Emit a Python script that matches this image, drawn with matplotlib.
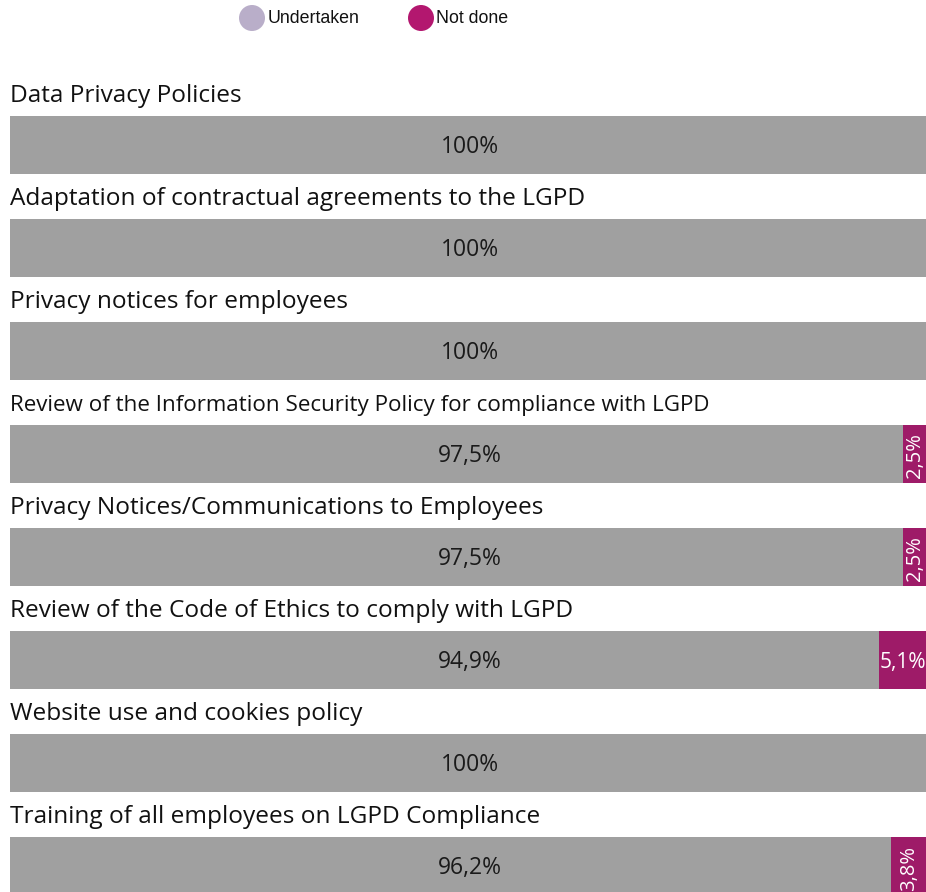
import matplotlib
matplotlib.use("Agg")
import matplotlib.pyplot as plt
from matplotlib.patches import Circle

# Survey items and share of respondents (%)
items = [
    "Data Privacy Policies",
    "Adaptation of contractual agreements to the LGPD",
    "Privacy notices for employees",
    "Review of the Information Security Policy for compliance with LGPD",
    "Privacy Notices/Communications to Employees",
    "Review of the Code of Ethics to comply with LGPD",
    "Website use and cookies policy",
    "Training of all employees on LGPD Compliance",
]
undertaken = [100, 100, 100, 97.5, 97.5, 94.9, 100, 96.2]
not_done = [0, 0, 0, 2.5, 2.5, 5.1, 0, 3.8]
legend_labels = ["Undertaken", "Not done"]

GRAY = "#a0a0a0"
MAGENTA = "#9e1b68"
LEG_UNDER = "#b9aec9"
LEG_NOT = "#b3176f"

W, H = 926, 892
fig = plt.figure(figsize=(W / 100, H / 100), dpi=100)
fig.patch.set_facecolor("white")

# Bar area: axes spans from x=10px to right edge, full height
ax = fig.add_axes([10 / W, 0, 1 - 10 / W, 1])
row_px = 103.0
first_center_px = 145.0
ax.set_xlim(0, 100)
ax.set_ylim((H - first_center_px) / row_px, -first_center_px / row_px)
ax.axis("off")

bar_h = 58 / row_px
title_off = 49 / row_px

def fmt(v):
    s = f"{v:g}".replace(".", ",")
    return s + "%"

for i, (name, u, n) in enumerate(zip(items, undertaken, not_done)):
    ax.barh(i, u, height=bar_h, left=0, color=GRAY, linewidth=0)
    if n > 0:
        ax.barh(i, n, height=bar_h, left=u, color=MAGENTA, linewidth=0)
    # item title above its bar
    condensed = len(name) > 55
    ax.text(0, i - title_off, name, ha="left", va="center",
            fontsize=16.1 if condensed else 17.6, family="Open Sans",
            color="#111111")
    # value inside the bar
    ax.text(50.2, i + 0.02, fmt(u), ha="center", va="center",
            fontsize=16.5, family="Open Sans", color="#1a1a1a")
    if n > 0:
        wide = n >= 5
        ax.text(u + n / 2, i + 0.02, fmt(n), ha="center", va="center",
                fontsize=15 if wide else 14.5, family="Open Sans",
                color="white", rotation=0 if wide else 90, clip_on=False)

# Legend drawn at the top
lax = fig.add_axes([0, 0, 1, 1])
lax.set_xlim(0, W)
lax.set_ylim(H, 0)
lax.axis("off")
lax.set_zorder(5)
leg_items = [(252, LEG_UNDER, 16), (421, LEG_NOT, 15)]
for (cx, col, dx), lab in zip(leg_items, legend_labels):
    lax.add_patch(Circle((cx, 18), 13, color=col, linewidth=0))
    lax.text(cx + dx, 18.5, lab, ha="left", va="center", fontsize=12.8,
             family="Liberation Sans", color="#111111")

fig.savefig("out.png", dpi=100, facecolor="white")
